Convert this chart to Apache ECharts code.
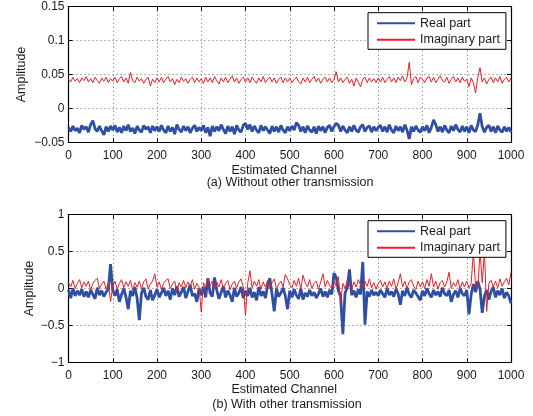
<!DOCTYPE html>
<html>
<head>
<meta charset="utf-8">
<script src="https://cdn.jsdelivr.net/npm/echarts@6/dist/echarts.min.js"></script>
<style>html,body{margin:0;padding:0;background:#fff}#c{width:533px;height:416px}</style>
</head>
<body>
<div id="c"></div>
<script>
// Channel step between the read samples
var STEP = 5;
var xTicks = [0,100,200,300,400,500,600,700,800,900,1000];
var yTicksA = [-0.05,0,0.05,0.1,0.15];
var yTicksB = [-1,-0.5,0,0.5,1];
var legendNames = ['Real part','Imaginary part'];

// (a) Without other transmission
var realA = [
-0.028,-0.034,-0.026,-0.033,-0.029,-0.036,-0.025,-0.031,-0.027,-0.035,-0.024,-0.018,-0.030,-0.034,-0.026,-0.033,-0.039,-0.027,-0.034,-0.026,
-0.032,-0.025,-0.035,-0.028,-0.036,-0.026,-0.033,-0.024,-0.034,-0.029,-0.037,-0.026,-0.032,-0.035,-0.025,-0.031,-0.027,-0.036,-0.026,-0.033,
-0.027,-0.034,-0.025,-0.032,-0.036,-0.026,-0.034,-0.028,-0.038,-0.024,-0.031,-0.035,-0.026,-0.033,-0.027,-0.036,-0.029,-0.025,-0.034,-0.028,
-0.033,-0.025,-0.036,-0.028,-0.041,-0.026,-0.034,-0.027,-0.033,-0.024,-0.031,-0.037,-0.026,-0.034,-0.027,-0.038,-0.025,-0.032,-0.035,-0.025,
-0.022,-0.031,-0.024,-0.034,-0.026,-0.032,-0.036,-0.025,-0.033,-0.027,-0.032,-0.037,-0.026,-0.034,-0.027,-0.035,-0.025,-0.032,-0.036,-0.027,
-0.033,-0.026,-0.032,-0.021,-0.025,-0.034,-0.027,-0.036,-0.026,-0.032,-0.035,-0.027,-0.037,-0.026,-0.033,-0.027,-0.036,-0.028,-0.025,-0.034,
-0.027,-0.022,-0.025,-0.034,-0.026,-0.032,-0.036,-0.027,-0.034,-0.025,-0.032,-0.035,-0.027,-0.024,-0.034,-0.028,-0.026,-0.035,-0.027,-0.033,
-0.028,-0.025,-0.034,-0.027,-0.035,-0.024,-0.032,-0.036,-0.026,-0.033,-0.027,-0.035,-0.024,-0.032,-0.045,-0.027,-0.034,-0.026,-0.032,-0.035,
-0.027,-0.033,-0.025,-0.036,-0.028,-0.017,-0.024,-0.034,-0.027,-0.035,-0.025,-0.032,-0.036,-0.026,-0.033,-0.024,-0.031,-0.035,-0.026,-0.034,
-0.027,-0.036,-0.025,-0.032,-0.034,-0.024,-0.007,-0.027,-0.035,-0.028,-0.025,-0.034,-0.027,-0.036,-0.026,-0.032,-0.035,-0.027,-0.034,-0.028,
-0.035];
var imagA = [
0.043,0.039,0.046,0.040,0.044,0.038,0.045,0.041,0.047,0.039,0.044,0.038,0.046,0.041,0.037,0.045,0.040,0.046,0.038,0.044,
0.040,0.046,0.038,0.044,0.047,0.039,0.045,0.037,0.053,0.041,0.038,0.046,0.040,0.044,0.037,0.043,0.046,0.033,0.043,0.038,
0.045,0.039,0.046,0.038,0.043,0.047,0.039,0.044,0.035,0.043,0.038,0.046,0.040,0.044,0.037,0.043,0.046,0.038,0.045,0.039,
0.044,0.037,0.046,0.039,0.045,0.038,0.047,0.041,0.036,0.045,0.039,0.046,0.038,0.043,0.048,0.039,0.045,0.037,0.043,0.046,
0.039,0.045,0.038,0.046,0.041,0.037,0.045,0.039,0.047,0.038,0.043,0.046,0.039,0.045,0.037,0.043,0.046,0.038,0.045,0.039,
0.045,0.038,0.043,0.046,0.039,0.036,0.045,0.039,0.046,0.038,0.043,0.047,0.039,0.045,0.037,0.043,0.046,0.039,0.045,0.038,
0.043,0.054,0.039,0.045,0.038,0.043,0.046,0.037,0.043,0.033,0.045,0.039,0.032,0.043,0.046,0.038,0.045,0.039,0.044,0.038,
0.045,0.039,0.046,0.038,0.043,0.047,0.039,0.045,0.038,0.046,0.041,0.048,0.039,0.045,0.068,0.035,0.044,0.047,0.038,0.046,
0.043,0.038,0.045,0.047,0.039,0.046,0.038,0.043,0.048,0.041,0.039,0.046,0.037,0.043,0.047,0.039,0.045,0.038,0.046,0.040,
0.043,0.032,0.045,0.038,0.023,0.046,0.060,0.039,0.045,0.036,0.043,0.046,0.038,0.045,0.039,0.047,0.037,0.043,0.046,0.039,
0.045];

// (b) With other transmission
var realB = [
-0.02,-0.13,0.00,-0.10,-0.03,-0.09,-0.01,-0.11,-0.04,-0.12,-0.02,-0.08,-0.14,0.01,-0.09,-0.03,-0.11,-0.05,-0.01,0.33,
-0.02,-0.10,-0.01,-0.18,-0.08,0.00,-0.12,-0.28,-0.03,-0.10,0.02,-0.13,-0.43,-0.06,0.01,-0.11,-0.15,-0.02,-0.16,-0.09,
-0.01,-0.12,-0.06,0.01,-0.10,-0.03,-0.15,0.00,-0.09,0.03,-0.11,-0.05,0.02,-0.13,-0.04,0.05,-0.10,-0.07,-0.18,0.00,
-0.09,0.02,-0.12,0.14,-0.06,-0.11,0.15,-0.02,-0.14,-0.05,0.03,-0.12,-0.03,-0.09,-0.18,0.01,-0.11,-0.06,0.02,-0.13,
-0.03,-0.10,0.01,-0.12,-0.05,-0.16,0.02,-0.10,-0.04,-0.13,0.04,0.14,-0.08,-0.31,0.00,-0.11,-0.06,0.01,-0.10,-0.28,
-0.03,-0.12,-0.01,-0.09,-0.14,0.00,-0.15,-0.06,-0.11,-0.02,-0.10,-0.05,-0.13,-0.07,0.00,-0.11,-0.04,-0.12,-0.02,-0.08,
0.21,0.15,-0.03,-0.11,-0.62,-0.06,0.01,0.26,-0.09,-0.03,-0.12,-0.01,-0.08,0.36,-0.49,-0.04,-0.11,-0.02,-0.09,-0.05,
-0.10,-0.02,-0.07,-0.12,0.00,-0.09,-0.04,-0.11,-0.01,-0.07,-0.22,-0.03,-0.10,0.01,-0.08,-0.12,-0.02,-0.06,-0.11,-0.16,
-0.03,-0.10,0.00,-0.07,-0.12,-0.02,-0.09,-0.04,-0.11,0.01,-0.07,-0.10,-0.02,-0.18,-0.08,-0.03,-0.12,0.00,-0.07,-0.10,
-0.02,-0.35,-0.08,0.06,-0.05,0.10,-0.01,-0.33,-0.10,-0.02,-0.15,-0.04,0.02,-0.12,-0.03,-0.09,0.00,-0.13,-0.05,-0.10,
-0.20];
var imagB = [
0.08,0.02,0.11,0.00,0.07,0.12,0.01,0.09,0.03,0.10,-0.02,0.07,0.11,0.14,0.00,0.06,0.10,-0.01,0.08,-0.18,
0.03,0.10,-0.01,0.07,0.12,0.01,0.09,0.03,0.11,-0.02,0.08,0.02,0.10,0.00,0.09,0.13,-0.01,0.06,0.10,0.20,
0.02,0.09,-0.01,0.07,0.11,0.13,0.00,0.06,0.10,-0.03,0.08,0.02,0.11,0.01,0.09,0.03,0.12,-0.01,0.07,0.02,
-0.32,0.08,0.01,0.14,0.04,0.10,-0.01,0.09,0.02,0.12,0.00,0.07,0.11,-0.02,0.06,0.10,0.01,0.09,0.13,0.02,
-0.36,0.07,0.24,0.01,0.10,0.03,0.12,-0.01,0.09,0.02,0.11,0.00,0.08,0.13,-0.01,0.06,0.10,0.02,0.19,0.13,
0.05,0.01,0.11,0.03,0.14,-0.01,0.18,0.08,0.02,0.12,0.00,0.07,0.10,-0.01,0.09,0.20,0.02,0.11,0.04,0.00,
0.10,0.03,0.16,-0.18,0.07,0.00,0.11,0.04,-0.01,0.09,0.02,0.12,0.05,0.00,0.10,0.03,0.13,0.01,0.08,-0.01,
0.07,0.11,0.02,0.09,0.00,0.10,0.03,0.13,-0.01,0.08,0.20,0.02,0.10,0.00,0.09,0.12,0.03,-0.01,0.10,0.02,
0.09,0.00,0.12,0.03,0.20,0.02,0.10,-0.01,0.08,0.11,0.02,0.09,0.22,0.00,0.08,0.03,0.12,-0.01,0.09,0.02,
0.10,0.01,0.07,0.50,0.03,0.00,0.50,0.08,0.50,-0.31,0.07,0.11,0.02,0.10,0.01,0.13,0.03,0.09,0.14,0.05,
0.22];

function pairs(arr){ return arr.map(function(v,i){ return [i*STEP, v]; }); }

var FONT = '"Liberation Sans", Arial, Helvetica, sans-serif';
var TXT = '#1a1a1a';
var BLUE = '#2f4fa2';
var RED = '#ee1d25';

function fmt(v){
  var s = String(Math.round(v*1000)/1000);
  return s.charAt(0)==='-' ? '\u2212' + s.slice(1) : s;
}

var grids = [
  {left:68.5, width:442.5, top:6.7, height:135.6},
  {left:68.5, width:442.5, top:214.7, height:147.6}
];

function mkX(gi, pos, gap){
  var main = pos === 'bottom';
  return {
    type:'value', gridIndex:gi, position:pos, min:xTicks[0], max:xTicks[xTicks.length-1],
    interval:xTicks[1]-xTicks[0],
    name: main ? 'Estimated Channel' : '', nameLocation:'middle', nameGap:gap || 0, nameMoveOverlap:false,
    nameTextStyle:{fontFamily:FONT, fontSize:12.5, color:TXT, padding:[0,11,0,0]},
    axisLine:{show:true, onZero:false, lineStyle:{color:'#000', width:1.2}},
    axisTick:{show:true, inside:true, length:4, lineStyle:{color:'#000'}},
    axisLabel:{show:main, margin:7.5, fontFamily:FONT, fontSize:12, color:TXT, formatter:function(v){return String(v);}},
    splitLine:{show:main, lineStyle:{color:'#666', width:1, type:[1,3]}}
  };
}
function mkY(gi, pos, ticks, gap){
  var main = pos === 'left';
  return {
    type:'value', gridIndex:gi, position:pos, min:ticks[0], max:ticks[ticks.length-1],
    interval:ticks[1]-ticks[0],
    name: main ? 'Amplitude' : '', nameLocation:'middle', nameGap:gap, nameMoveOverlap:false,
    nameTextStyle:{fontFamily:FONT, fontSize:12.5, color:TXT},
    axisLine:{show:true, onZero:false, lineStyle:{color:'#000', width:1.2}},
    axisTick:{show:true, inside:true, length:4, lineStyle:{color:'#000'}},
    axisLabel:{show:main, margin:4, fontFamily:FONT, fontSize:12, color:TXT, formatter:fmt},
    splitLine:{show:main, lineStyle:{color:'#666', width:1, type:[1,3]}}
  };
}

function mkLegend(top){
  return {
    left:368, top:top, orient:'vertical',
    data:legendNames,
    padding:[4,6,3,8], itemGap:3.6, itemWidth:38, itemHeight:12,
    backgroundColor:'#fff', borderColor:'#000', borderWidth:1, borderRadius:0,
    itemStyle:{color:'rgba(0,0,0,0)', borderColor:'rgba(0,0,0,0)', borderWidth:0, opacity:0},
    textStyle:{fontFamily:FONT, fontSize:12.5, color:TXT},
    selectedMode:false, z:10
  };
}

var chart = echarts.init(document.getElementById('c'), null, {renderer:'canvas'});
chart.setOption({
  animation:false,
  backgroundColor:'#fff',
  grid: grids,
  xAxis:[mkX(0,'bottom',22), mkX(0,'top'), mkX(1,'bottom',21), mkX(1,'top')],
  yAxis:[mkY(0,'left',yTicksA,40), mkY(0,'right',yTicksA,0), mkY(1,'left',yTicksB,32.5), mkY(1,'right',yTicksB,0)],
  legend:[mkLegend(12.7), mkLegend(220.7)],
  graphic:[
    {type:'text', x:290, y:182.7, style:{text:'(a) Without other transmission', fontFamily:FONT, fontSize:12.5, fill:TXT, align:'center', verticalAlign:'middle'}},
    {type:'text', x:287, y:405, style:{text:'(b) With other transmission', fontFamily:FONT, fontSize:12.5, fill:TXT, align:'center', verticalAlign:'middle'}}
  ],
  series:[
    {name:'Real part', type:'line', xAxisIndex:0, yAxisIndex:0, data:pairs(realA), symbol:'none', showSymbol:false, lineStyle:{color:BLUE, width:2.8}, itemStyle:{color:BLUE}, z:2},
    {name:'Imaginary part', type:'line', xAxisIndex:0, yAxisIndex:0, data:pairs(imagA), symbol:'none', showSymbol:false, lineStyle:{color:RED, width:1}, itemStyle:{color:RED}, z:3},
    {name:'Real part', type:'line', xAxisIndex:2, yAxisIndex:2, data:pairs(realB), symbol:'none', showSymbol:false, lineStyle:{color:BLUE, width:2.8}, itemStyle:{color:BLUE}, z:2},
    {name:'Imaginary part', type:'line', xAxisIndex:2, yAxisIndex:2, data:pairs(imagB), symbol:'none', showSymbol:false, lineStyle:{color:RED, width:1}, itemStyle:{color:RED}, z:3}
  ]
});
</script>
</body>
</html>
